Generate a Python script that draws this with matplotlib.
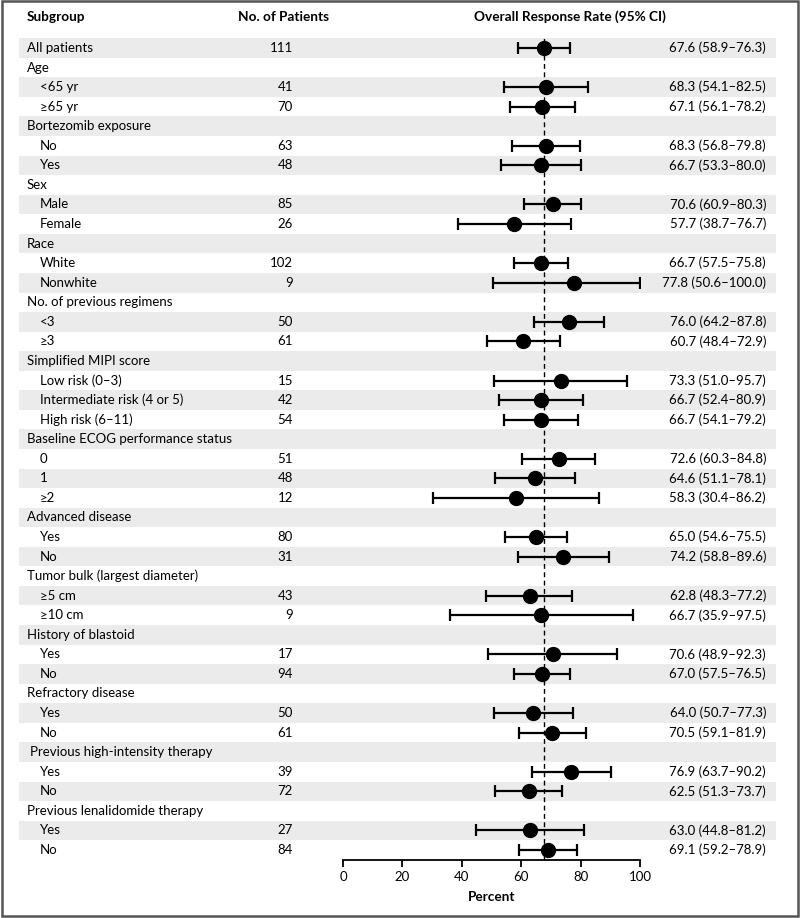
import matplotlib
matplotlib.use("Agg")
import matplotlib.pyplot as plt
from matplotlib.patches import Rectangle
import matplotlib.transforms as mtransforms

plt.rcParams['font.family'] = ['Lato', 'DejaVu Sans']

# ---- data ----
labels = [
    "All patients", "Age", "<65 yr", "≥65 yr", "Bortezomib exposure", "No", "Yes",
    "Sex", "Male", "Female", "Race", "White", "Nonwhite",
    "No. of previous regimens", "<3", "≥3",
    "Simplified MIPI score", "Low risk (0–3)", "Intermediate risk (4 or 5)", "High risk (6–11)",
    "Baseline ECOG performance status", "0", "1", "≥2",
    "Advanced disease", "Yes", "No",
    "Tumor bulk (largest diameter)", "≥5 cm", "≥10 cm",
    "History of blastoid", "Yes", "No",
    "Refractory disease", "Yes", "No",
    "Previous high-intensity therapy", "Yes", "No",
    "Previous lenalidomide therapy", "Yes", "No",
]
# level: 0 = top-level row, 1 = indented subgroup
levels = [0, 0, 1, 1, 0, 1, 1,
          0, 1, 1, 0, 1, 1,
          0, 1, 1,
          0, 1, 1, 1,
          0, 1, 1, 1,
          0, 1, 1,
          0, 1, 1,
          0, 1, 1,
          0, 1, 1,
          0, 1, 1,
          0, 1, 1]
patients = [111, None, 41, 70, None, 63, 48,
            None, 85, 26, None, 102, 9,
            None, 50, 61,
            None, 15, 42, 54,
            None, 51, 48, 12,
            None, 80, 31,
            None, 43, 9,
            None, 17, 94,
            None, 50, 61,
            None, 39, 72,
            None, 27, 84]
rate = [67.6, None, 68.3, 67.1, None, 68.3, 66.7,
        None, 70.6, 57.7, None, 66.7, 77.8,
        None, 76.0, 60.7,
        None, 73.3, 66.7, 66.7,
        None, 72.6, 64.6, 58.3,
        None, 65.0, 74.2,
        None, 62.8, 66.7,
        None, 70.6, 67.0,
        None, 64.0, 70.5,
        None, 76.9, 62.5,
        None, 63.0, 69.1]
ci_low = [58.9, None, 54.1, 56.1, None, 56.8, 53.3,
          None, 60.9, 38.7, None, 57.5, 50.6,
          None, 64.2, 48.4,
          None, 51.0, 52.4, 54.1,
          None, 60.3, 51.1, 30.4,
          None, 54.6, 58.8,
          None, 48.3, 35.9,
          None, 48.9, 57.5,
          None, 50.7, 59.1,
          None, 63.7, 51.3,
          None, 44.8, 59.2]
ci_high = [76.3, None, 82.5, 78.2, None, 79.8, 80.0,
           None, 80.3, 76.7, None, 75.8, 100.0,
           None, 87.8, 72.9,
           None, 95.7, 80.9, 79.2,
           None, 84.8, 78.1, 86.2,
           None, 75.5, 89.6,
           None, 77.2, 97.5,
           None, 92.3, 76.5,
           None, 77.3, 81.9,
           None, 90.2, 73.7,
           None, 81.2, 78.9]
overall_rate = 67.6
xticks = [0, 20, 40, 60, 80, 100]

# ---- figure ----
W, H = 800, 918
fig = plt.figure(figsize=(W / 100, H / 100), dpi=100)

row_h = 19.56
y0_px = 48.0
n = len(labels)
top_px = y0_px - row_h / 2
axis_px = 860.0
x0_px, x100_px = 343.0, 640.0

ax = fig.add_axes([x0_px / W, 1 - axis_px / H, (x100_px - x0_px) / W, (axis_px - top_px) / H])
ax.set_xlim(0, 100)
ax.set_ylim(-(n - 1) - (axis_px - (y0_px + (n - 1) * row_h)) / row_h, 0.5)
for s in ['top', 'right', 'left']:
    ax.spines[s].set_visible(False)
ax.spines['bottom'].set_linewidth(1.3)
ax.set_yticks([])
ax.set_xticks(xticks)
ax.tick_params(axis='x', length=5, width=1.3, labelsize=9.5, pad=3)
ax.patch.set_alpha(0)

trans = mtransforms.blended_transform_factory(fig.transFigure, ax.transData)

# shaded bands
for i in range(0, n, 2):
    ax.add_patch(Rectangle((19 / W, -i - 0.5), (776 - 19) / W, 1.0, transform=trans,
                           facecolor='#ebebeb', edgecolor='none', clip_on=False, zorder=0))

ax.axvline(overall_rate, color='black', lw=1.0, ls=(0, (3.5, 2.5)), zorder=1)

fs = 9.5
for i in range(n):
    y = -i
    if labels[i] == "Previous high-intensity therapy":
        xl = 30
    else:
        xl = 27 if levels[i] == 0 else 40
    ax.text(xl / W, y, labels[i], transform=trans, ha='left', va='center', fontsize=fs)
    if patients[i] is not None:
        ax.text(293 / W, y, str(patients[i]), transform=trans, ha='right', va='center', fontsize=fs)
    if rate[i] is not None:
        ax.errorbar(rate[i], y, xerr=[[rate[i] - ci_low[i]], [ci_high[i] - rate[i]]],
                    fmt='o', color='black', ms=10, elinewidth=1.6, capsize=4.5,
                    capthick=1.6, zorder=3)
        ax.text(766 / W, y, f"{rate[i]:.1f} ({ci_low[i]:.1f}–{ci_high[i]:.1f})",
                transform=trans, ha='right', va='center', fontsize=fs)

# headers
fsb = 9.8
fig.text(27 / W, 1 - 17 / H, "Subgroup", ha='left', va='center', fontsize=fsb, fontweight='bold')
fig.text(284 / W, 1 - 17 / H, "No. of Patients", ha='center', va='center', fontsize=fsb, fontweight='bold')
fig.text(570 / W, 1 - 17 / H, "Overall Response Rate (95% CI)", ha='center', va='center',
         fontsize=fsb, fontweight='bold')
fig.text(492 / W, 1 - 897 / H, "Percent", ha='center', va='center', fontsize=fsb, fontweight='bold')

# figure frame
fig.add_artist(Rectangle((2 / W, 2 / H), 796 / W, 915 / H, transform=fig.transFigure,
                         fill=False, edgecolor='#555555', lw=1.8))

fig.savefig("out.png", dpi=100)
